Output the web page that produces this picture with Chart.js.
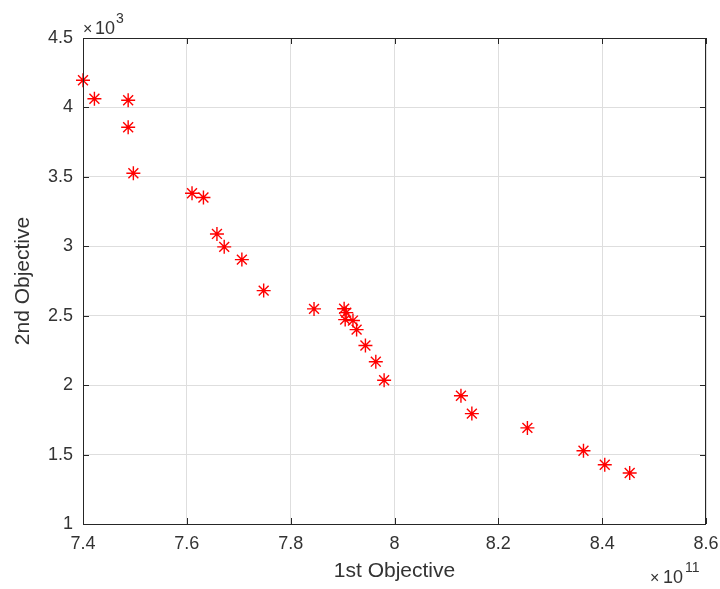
<!DOCTYPE html>
<html>
<head>
<meta charset="utf-8">
<script src="https://cdn.jsdelivr.net/npm/chart.js"></script>
<style>
  html, body { margin: 0; padding: 0; background: #fff; }
  #wrap { width: 720px; height: 589px; }
</style>
</head>
<body>
<div id="wrap"><canvas id="myChart" width="720" height="589"></canvas></div>
<script>
// values (y is in units of 10^3, x in units of 10^11)
let obj1 = [7.400, 7.422, 7.487, 7.487, 7.497, 7.610, 7.632, 7.658, 7.672, 7.706, 7.748, 7.845, 7.903,
            7.907, 7.905, 7.920, 7.927, 7.944, 7.964, 7.980, 8.128, 8.149, 8.256, 8.364, 8.405, 8.453];
let obj2 = [4.196, 4.062, 4.052, 3.857, 3.526, 3.382, 3.351, 3.089, 2.996, 2.904, 2.681, 2.549, 2.550,
            2.522, 2.472, 2.465, 2.400, 2.285, 2.169, 2.035, 1.924, 1.795, 1.692, 1.528, 1.427, 1.367];

let xTicks = [7.4, 7.6, 7.8, 8, 8.2, 8.4, 8.6];
let yTicks = [1, 1.5, 2, 2.5, 3, 3.5, 4, 4.5];

let xTitle = "1st Objective";
let yTitle = "2nd Objective";

let points = obj1.map((v, i) => ({x: v, y: obj2[i]}));

let txt = '#333333';
let axisCol = '#262626';

// box round the plot, inner tick marks and the x10^n labels
let boxPlugin = {
  id: 'box',
  afterDraw(chart) {
    let ctx = chart.ctx;
    let a = chart.chartArea;
    let sx = chart.scales.x, sy = chart.scales.y;
    ctx.save();
    ctx.strokeStyle = axisCol;
    ctx.lineWidth = 1;
    ctx.strokeRect(Math.round(a.left) + 0.5, Math.round(a.top) + 0.5,
                   Math.round(a.right - a.left) - 1, Math.round(a.bottom - a.top));
    ctx.beginPath();
    xTicks.forEach(t => {
      let px = Math.round(sx.getPixelForValue(t)) + 0.5;
      ctx.moveTo(px, a.bottom); ctx.lineTo(px, a.bottom - 6);
      ctx.moveTo(px, a.top); ctx.lineTo(px, a.top + 6);
    });
    yTicks.forEach(t => {
      let py = Math.round(sy.getPixelForValue(t)) + 0.5;
      ctx.moveTo(a.left, py); ctx.lineTo(a.left + 6, py);
      ctx.moveTo(a.right, py); ctx.lineTo(a.right - 6, py);
    });
    ctx.stroke();

    ctx.fillStyle = txt;
    ctx.textBaseline = 'alphabetic';
    ctx.textAlign = 'left';
    // x10^3 over the y axis
    ctx.font = '16px "Liberation Sans"';
    ctx.fillText('\u00d7', a.left, 34);
    ctx.font = '18px "Liberation Sans"';
    ctx.fillText('10', a.left + 12, 34);
    ctx.font = '14px "Liberation Sans"';
    ctx.fillText('3', a.left + 33, 23);
    // x10^11 under the x axis
    ctx.font = '16px "Liberation Sans"';
    ctx.fillText('\u00d7', a.right - 56, 583);
    ctx.font = '18px "Liberation Sans"';
    ctx.fillText('10', a.right - 43, 583);
    ctx.font = '14px "Liberation Sans"';
    ctx.fillText('11', a.right - 21, 572);
    ctx.restore();
  }
};

let fmt = v => String(+Number(v).toFixed(2));

let ctx = document.getElementById('myChart').getContext('2d');
let chart = new Chart(ctx, {
  type: 'scatter',
  data: {
    datasets: [{
      data: points,
      pointStyle: 'star',
      pointRadius: 7,
      pointBorderWidth: 1.4,
      borderColor: '#ff0000',
      backgroundColor: '#ff0000',
      clip: false
    }]
  },
  options: {
    responsive: false,
    animation: false,
    devicePixelRatio: 1,
    layout: { padding: { left: 0, right: 14, top: 38, bottom: 0 } },
    plugins: {
      legend: { display: false },
      tooltip: { enabled: false }
    },
    scales: {
      x: {
        type: 'linear',
        min: 7.4,
        max: 8.6,
        afterFit: s => { s.height = 65; s.paddingLeft = 0; s.paddingRight = 0; },
        afterBuildTicks: s => { s.ticks = xTicks.map(v => ({value: v})); },
        ticks: {
          callback: fmt,
          color: txt,
          padding: 9,
          maxRotation: 0,
          font: { family: 'Liberation Sans', size: 18 }
        },
        grid: { color: '#dedede', drawTicks: false },
        border: { display: false },
        title: {
          display: true,
          text: xTitle,
          color: txt,
          padding: { top: 0, bottom: 5 },
          font: { family: 'Liberation Sans', size: 21 }
        }
      },
      y: {
        type: 'linear',
        min: 1,
        max: 4.5,
        afterFit: s => { s.width = 83; s.paddingTop = 0; s.paddingBottom = 0; },
        afterBuildTicks: s => { s.ticks = yTicks.map(v => ({value: v})); },
        ticks: {
          callback: fmt,
          color: txt,
          padding: 10,
          font: { family: 'Liberation Sans', size: 18 }
        },
        grid: { color: '#dedede', drawTicks: false },
        border: { display: false },
        title: {
          display: true,
          text: yTitle,
          color: txt,
          padding: { top: 11, bottom: 0 },
          font: { family: 'Liberation Sans', size: 21 }
        }
      }
    }
  },
  plugins: [boxPlugin]
});
</script>
</body>
</html>
